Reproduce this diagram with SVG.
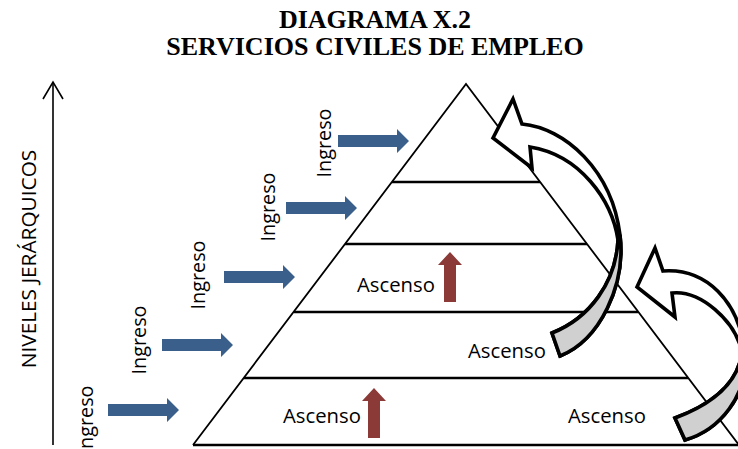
<svg xmlns="http://www.w3.org/2000/svg" width="738" height="449" viewBox="0 0 738 449">
<style>
.title{font-family:"Liberation Serif","Times New Roman",serif;font-weight:bold;font-size:26px;fill:#000;text-anchor:middle}
.lbl{font-family:"Open Sans","Liberation Sans",sans-serif;font-size:20.3px;fill:#000}
.vl{font-family:"Open Sans","Liberation Sans",sans-serif;font-size:19.8px;fill:#000;text-anchor:middle}
.axl{font-family:"Open Sans","Liberation Sans",sans-serif;font-size:20.8px;fill:#000;text-anchor:middle}
.edge{stroke:#000;stroke-width:1.8;fill:none}
.lvl{stroke:#000;stroke-width:2.6;fill:none}
.blue{fill:#3A5F8B}
.red{fill:#8C3A37}
.curve{fill:#fff;stroke:#000;stroke-width:3.6;stroke-linejoin:miter}
.shade{fill:#D0D0D0;stroke:#000;stroke-width:3.6;stroke-linejoin:miter}
</style>
<defs>
<path id="ingArrow" d="M0,-6 H59 V-12 L71,0 L59,12 V6 H0 Z"/>
<path id="upArrow" d="M0,0 L12,13 H6 V50 H-6 V13 H-12 Z"/>
</defs>
<rect width="738" height="449" fill="#fff"/>

<g id="title">
<text class="title" x="375" y="28">DIAGRAMA X.2</text>
<text class="title" x="375" y="55">SERVICIOS CIVILES DE EMPLEO</text>
</g>

<g id="axis">
<line x1="53" y1="445" x2="53" y2="82" stroke="#000" stroke-width="1.6"/>
<polyline points="43,99 53,82 63,99" fill="none" stroke="#000" stroke-width="1.6"/>
<text class="axl" transform="translate(36,259) rotate(-90)">NIVELES JERÁRQUICOS</text>
</g>

<g id="pyramid">
<polyline class="edge" points="193,445 466,84 739,445"/>
<line class="lvl" x1="392" y1="182" x2="540" y2="182"/>
<line class="lvl" x1="345" y1="244" x2="587" y2="244"/>
<line class="lvl" x1="294" y1="312" x2="638" y2="312"/>
<line class="lvl" x1="244" y1="378" x2="688" y2="378"/>
<line class="lvl" x1="193" y1="445" x2="738" y2="445"/>
</g>

<g id="ingreso1">
<use href="#ingArrow" class="blue" x="338" y="141"/>
<text class="vl" transform="translate(331,143) rotate(-90)">Ingreso</text>
</g>
<g id="ingreso2">
<use href="#ingArrow" class="blue" x="286" y="208"/>
<text class="vl" transform="translate(275,207) rotate(-90)">Ingreso</text>
</g>
<g id="ingreso3">
<use href="#ingArrow" class="blue" x="224" y="277"/>
<text class="vl" transform="translate(205,275) rotate(-90)">Ingreso</text>
</g>
<g id="ingreso4">
<use href="#ingArrow" class="blue" x="162" y="345"/>
<text class="vl" transform="translate(146,340) rotate(-90)">Ingreso</text>
</g>
<g id="ingreso5">
<use href="#ingArrow" class="blue" x="108" y="410"/>
<text class="vl" transform="translate(93,420) rotate(-90)">Ingreso</text>
</g>

<g id="ascenso-nivel3">
<text class="lbl" x="357" y="292">Ascenso</text>
<use href="#upArrow" class="red" x="450" y="252"/>
</g>
<g id="ascenso-nivel4">
<text class="lbl" x="468" y="358">Ascenso</text>
</g>
<g id="ascenso-nivel5-izq">
<text class="lbl" x="283" y="423">Ascenso</text>
<use href="#upArrow" class="red" x="374" y="388"/>
</g>
<g id="ascenso-nivel5-der">
<text class="lbl" x="568" y="423">Ascenso</text>
</g>

<g id="connectors">
<g id="curva1">
<path class="curve" d="M493,138 L513,99 L522,124 C565,128 612,170 620,235 C626,285 600,340 560,356 L552,333 C590,318 616,282 618,240 C612,200 580,155 530,147 L532,168 Z"/>
<path class="shade" d="M620,235 C626,285 600,340 560,356 L552,333 C590,318 616,282 618,240 Z"/>
</g>
<g id="curva2">
<path class="curve" d="M637,287 L655,248 L663,271 C705,268 740,300 745,355 C748,395 720,430 685,440 L675,418 C710,405 738,385 742,352 C735,320 700,290 672,293 L675,317 Z"/>
<path class="shade" d="M745,355 C748,395 720,430 685,440 L675,418 C710,405 738,385 742,352 Z"/>
</g>
</g>
</svg>
